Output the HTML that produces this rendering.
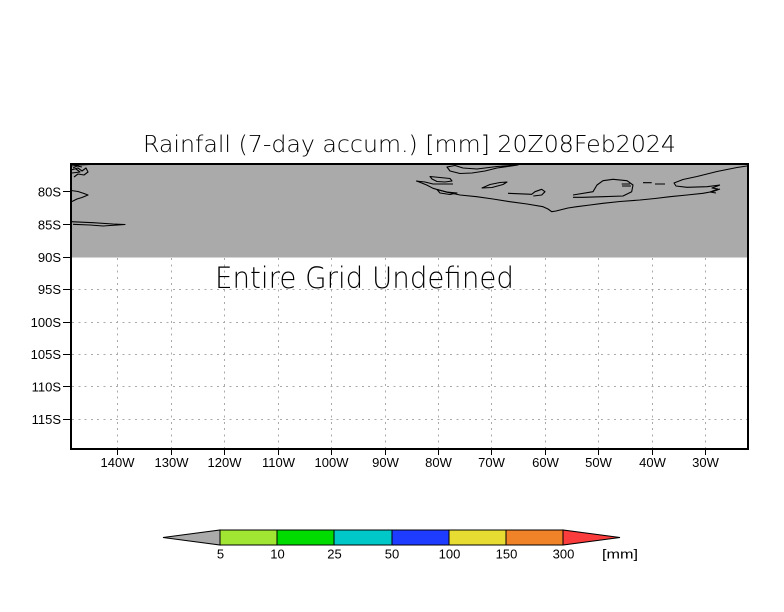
<!DOCTYPE html>
<html><head><meta charset="utf-8"><style>
html,body{margin:0;padding:0;background:#fff;}
svg{display:block;}
text{font-family:"Liberation Sans","DejaVu Sans",sans-serif;fill:#000;}
.big{font-family:"DejaVu Sans","Liberation Sans",sans-serif;font-weight:200;}
</style></head><body>
<svg width="784" height="612" viewBox="0 0 784 612" xmlns="http://www.w3.org/2000/svg">
<rect x="0" y="0" width="784" height="612" fill="#fff"/>
<!-- title -->
<text class="big" x="143" y="152" font-size="23" textLength="533" lengthAdjust="spacingAndGlyphs">Rainfall (7-day accum.) [mm] 20Z08Feb2024</text>
<!-- gray undefined region -->
<rect x="71" y="164" width="677" height="93.5" fill="#aaaaaa"/>
<!-- grid -->
<g stroke="#aaaaaa" stroke-width="1" stroke-dasharray="2 4.3" shape-rendering="crispEdges" fill="none">
<path d="M117.5,258V448M171.5,258V448M224.5,258V448M278.5,258V448M331.5,258V448M385.5,258V448M438.5,258V448M491.5,258V448M545.5,258V448M598.5,258V448M652.5,258V448M705.5,258V448"/>
<path d="M72,289.5H747M72,322.5H747M72,354.5H747M72,386.5H747M72,419.5H747"/>
</g>
<!-- coastlines -->
<g stroke="#000" stroke-width="1.1" fill="none" stroke-linejoin="round">
<path d="M416.7,181 L426.7,185 L433,188.3 L446,192 L460,195 L476.7,196.7 L493,199 L510,201.7 L527,204 L543,206.7 L548,209 L551.7,211.7 L556,211 L560,210 L568,208 L576.7,206.7 L590,205 L603,203.3 L620,201.5 L640,200 L655,198.5 L670,196.7 L687,195 L703,193.3 L713,191.5 L720,189"/>
<path d="M447,167 L455,165.5 L463,168 L477,169 L497,166.5 L518,165 L497,168 L485,171 L472,173 L460,173.5 L450,171 Z"/>
<path d="M430,176.5 L440,177.5 L450,178.5 L452,181 L445,182 L437,181.5 L432,179 Z"/>
<path d="M416,181 L425,182 L433,184 L443,184 L453,184"/>
<path d="M437,189.5 L447,192 L457,193 L450,194.5 L440,193 Z"/>
<path d="M482,188 L490,184.5 L500,182.5 L507,182 L503,184.5 L492,187.5 Z"/>
<path d="M508,193.3 L531.7,194.3 L535,191.7 L541.7,189.3 L545,191.7 L541.7,195 L533.3,196"/>
<path d="M573,195 L593,191.7 L597,185 L603,180.7 L613,179.3 L627,180.7 L633,185 L631.7,191.7 L623,196 L603,196.7 L583,197.3 L573,197.3"/>
<path d="M621.7,184 L630,184 M622,186 L631,186 M643,182.7 L651.7,182.7 M655,184 L665,184"/>
<path d="M747,166 L737,167.5 L717,171.5 L697,176.5 L683,179.5 L674,183 L676,186 L687,187.3 L707,186.7 L720,185 M720,185 L712,188 L718,189 L710,192 L716,193"/>
<path d="M71,166 L80,165 L90,164.5 M71,170 L78,168 L82,171 L86,168 L88,172 L84,175 L78,174 L74,177 M72,173 L80,172 L76,169 M73,168 L77,166 L82,167"/>
<path d="M71,190.5 L78,191.5 L84,193.5 L88,195 L82,197.5 L77,199 L72,201.5"/>
<path d="M71,221.7 L93,222.7 L113,224 L125,224.5 L118,225 L110,225.5 L103,226 L90,225 L73,224.3"/>
</g>
<!-- frame -->
<rect x="71" y="164" width="677" height="285" fill="none" stroke="#000" stroke-width="2"/>
<!-- ticks -->
<g stroke="#000" stroke-width="1" shape-rendering="crispEdges">
<path d="M63,191.5H70M63,224.5H70M63,257.5H70M63,289.5H70M63,322.5H70M63,354.5H70M63,386.5H70M63,419.5H70"/>
<path d="M117.5,450V455M171.5,450V455M224.5,450V455M278.5,450V455M331.5,450V455M385.5,450V455M438.5,450V455M491.5,450V455M545.5,450V455M598.5,450V455M652.5,450V455M705.5,450V455"/>
</g>
<!-- y labels -->
<g font-size="13" text-anchor="end">
<text x="61" y="196.5">80S</text>
<text x="61" y="229.5">85S</text>
<text x="61" y="262">90S</text>
<text x="61" y="294">95S</text>
<text x="61" y="327">100S</text>
<text x="61" y="359">105S</text>
<text x="61" y="391.5">110S</text>
<text x="61" y="424">115S</text>
</g>
<!-- x labels -->
<g font-size="13" text-anchor="middle">
<text x="117.5" y="467">140W</text>
<text x="171.5" y="467">130W</text>
<text x="224.5" y="467">120W</text>
<text x="278.5" y="467">110W</text>
<text x="331.5" y="467">100W</text>
<text x="385.5" y="467">90W</text>
<text x="438.5" y="467">80W</text>
<text x="491.5" y="467">70W</text>
<text x="545.5" y="467">60W</text>
<text x="598.5" y="467">50W</text>
<text x="652.5" y="467">40W</text>
<text x="705.5" y="467">30W</text>
</g>
<!-- undefined message -->
<text class="big" x="215" y="288" font-size="29" textLength="299" lengthAdjust="spacingAndGlyphs">Entire Grid Undefined</text>
<!-- colorbar -->
<g stroke="#000" stroke-width="1">
<polygon points="163,537.5 220,530 220,545" fill="#aaaaaa"/>
<rect x="220" y="530" width="57" height="15" fill="#a0e632"/>
<rect x="277" y="530" width="57" height="15" fill="#00dc00"/>
<rect x="334" y="530" width="58" height="15" fill="#00c8c8"/>
<rect x="392" y="530" width="57" height="15" fill="#1e3cff"/>
<rect x="449" y="530" width="57" height="15" fill="#e6dc32"/>
<rect x="506" y="530" width="57" height="15" fill="#f08228"/>
<polygon points="563,530 563,545 620,537.5" fill="#fa3c3c"/>
</g>
<g font-size="13" text-anchor="middle">
<text x="220.5" y="558.5">5</text>
<text x="277.5" y="558.5">10</text>
<text x="334.5" y="558.5">25</text>
<text x="392" y="558.5">50</text>
<text x="449.5" y="558.5">100</text>
<text x="506.5" y="558.5">150</text>
<text x="563.5" y="558.5">300</text>
</g>
<text x="602" y="558.5" font-size="13" textLength="36" lengthAdjust="spacingAndGlyphs">[mm]</text>
</svg>
</body></html>
